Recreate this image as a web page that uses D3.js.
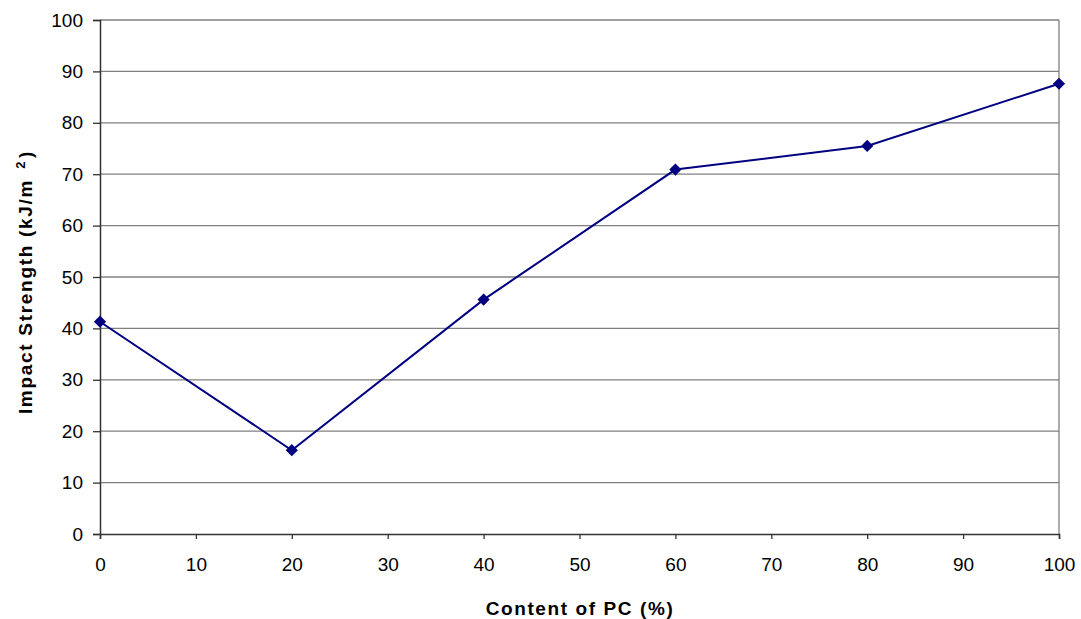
<!DOCTYPE html>
<html>
<head>
<meta charset="utf-8">
<script src="https://cdn.jsdelivr.net/npm/d3@7"></script>
<style>
  body { margin: 0; background: #fff; }
  text { font-family: "Liberation Sans", Arial, sans-serif; }
</style>
</head>
<body>
<script>
// data
const pcContent = [0, 20, 40, 60, 80, 100];
const impactStrength = [41.3, 16.3, 45.6, 70.9, 75.5, 87.6];
const xTicks = [0, 10, 20, 30, 40, 50, 60, 70, 80, 90, 100];
const yTicks = [0, 10, 20, 30, 40, 50, 60, 70, 80, 90, 100];

const width = 1081, height = 619;
const plotLeft = 100, plotRight = 1059, plotTop = 20, plotBottom = 534;

const svg = d3.select("body").append("svg")
    .attr("width", width)
    .attr("height", height);

const x = d3.scaleLinear().domain([0, 100]).range([plotLeft, plotRight]);
const y = d3.scaleLinear().domain([0, 100]).range([plotBottom, plotTop]);

// horizontal grid
svg.append("g")
    .selectAll("line")
    .data(yTicks.filter(d => d > 0))
    .enter()
    .append("line")
    .attr("x1", plotLeft).attr("x2", plotRight)
    .attr("y1", d => y(d)).attr("y2", d => y(d))
    .attr("stroke", "#808080")
    .attr("stroke-width", 1.3);

// right border
svg.append("line")
    .attr("x1", plotRight).attr("x2", plotRight)
    .attr("y1", plotTop).attr("y2", plotBottom)
    .attr("stroke", "#808080")
    .attr("stroke-width", 1.3);

// y axis
const yAxis = svg.append("g")
    .attr("transform", `translate(${plotLeft},0)`)
    .call(d3.axisLeft(y).tickValues(yTicks).tickSize(7).tickPadding(10));

// x axis
const xAxis = svg.append("g")
    .attr("transform", `translate(0,${plotBottom})`)
    .call(d3.axisBottom(x).tickValues(xTicks).tickSize(5).tickPadding(19));

[yAxis, xAxis].forEach(g => {
    g.select(".domain").attr("stroke", "#333").attr("stroke-width", 1.5);
    g.selectAll(".tick line").attr("stroke", "#333").attr("stroke-width", 1.3);
    g.selectAll(".tick text")
        .attr("fill", "#000")
        .style("font-size", "19px")
        .style("font-family", "'Liberation Sans', Arial, sans-serif");
});

// series line
const line = d3.line()
    .x((d, i) => x(pcContent[i]))
    .y(d => y(d));

svg.append("path")
    .datum(impactStrength)
    .attr("d", line)
    .attr("fill", "none")
    .attr("stroke", "#000080")
    .attr("stroke-width", 2);

// diamond markers
svg.append("g")
    .selectAll("path")
    .data(impactStrength)
    .enter()
    .append("path")
    .attr("d", d3.symbol().type(d3.symbolDiamond2).size(95))
    .attr("transform", (d, i) => `translate(${x(pcContent[i])},${y(d)})`)
    .attr("fill", "#000080");

// axis titles
svg.append("text")
    .attr("x", 580)
    .attr("y", 615)
    .attr("text-anchor", "middle")
    .style("font-size", "19px")
    .style("font-weight", "bold")
    .style("letter-spacing", "1.6px")
    .text("Content of PC (%)");

const yt = svg.append("text")
    .attr("transform", "translate(32,282) rotate(-90)")
    .attr("text-anchor", "middle")
    .style("font-size", "19px")
    .style("font-weight", "bold")
    .style("letter-spacing", "1.7px");
yt.append("tspan").text("Impact Strength (kJ/m");
yt.append("tspan").attr("dx", 10).attr("dy", -7).style("font-size", "13px").text("2");
yt.append("tspan").attr("dx", 2).attr("dy", 7).text(")");
</script>
</body>
</html>
